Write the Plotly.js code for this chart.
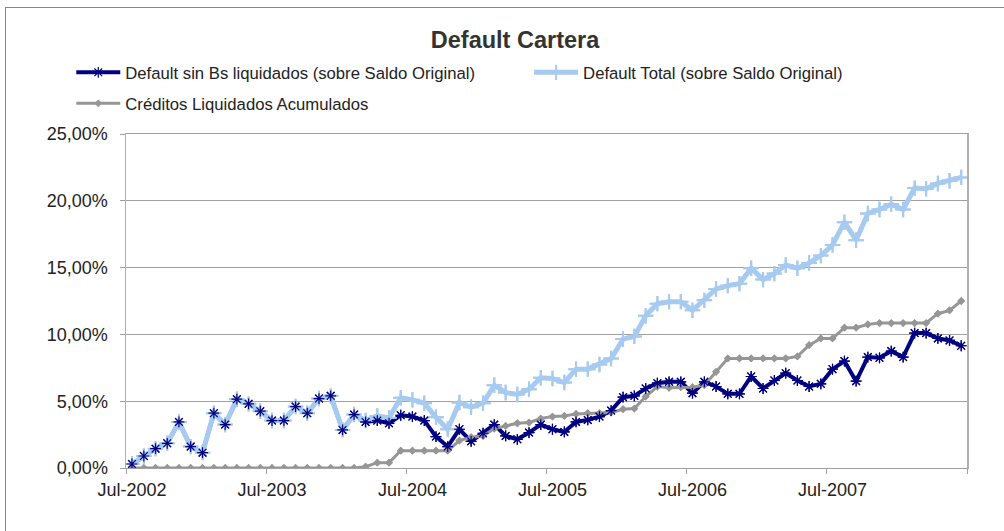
<!DOCTYPE html>
<html><head><meta charset="utf-8">
<script src="https://cdn.plot.ly/plotly-3.0.1.min.js"></script>
<style>
html,body{margin:0;padding:0;background:#fff;}
#frame{position:absolute;left:5px;top:7px;width:1100px;height:600px;border-left:1px solid #868686;border-top:1px solid #868686;}
#chart{position:absolute;left:0;top:0;width:1004px;height:531px;}
</style></head><body>
<div id="frame"></div><div id="chart"></div>
<script>
const months = [
 '2002-07','2002-08','2002-09','2002-10','2002-11','2002-12',
 '2003-01','2003-02','2003-03','2003-04','2003-05','2003-06','2003-07','2003-08','2003-09','2003-10','2003-11','2003-12',
 '2004-01','2004-02','2004-03','2004-04','2004-05','2004-06','2004-07','2004-08','2004-09','2004-10','2004-11','2004-12',
 '2005-01','2005-02','2005-03','2005-04','2005-05','2005-06','2005-07','2005-08','2005-09','2005-10','2005-11','2005-12',
 '2006-01','2006-02','2006-03','2006-04','2006-05','2006-06','2006-07','2006-08','2006-09','2006-10','2006-11','2006-12',
 '2007-01','2007-02','2007-03','2007-04','2007-05','2007-06','2007-07','2007-08','2007-09','2007-10','2007-11','2007-12',
 '2008-01','2008-02','2008-03','2008-04','2008-05','2008-06'
];
const tickDates = ['2002-07-01','2003-07-01','2004-07-01','2005-07-01','2006-07-01','2007-07-01','2008-07-01'];
const tickLabels = ['Jul-2002','Jul-2003','Jul-2004','Jul-2005','Jul-2006','Jul-2007',''];

const defaultSinBs = [
 0.3,0.9,1.45,1.85,3.45,1.6,1.15,4.1,3.25,5.15,4.8,4.25,
 3.55,3.55,4.6,4.1,5.2,5.4,2.85,4.0,3.45,3.55,3.35,3.95,
 3.85,3.55,2.35,1.6,2.9,2.0,2.6,3.25,2.4,2.15,2.65,3.25,
 2.9,2.7,3.45,3.6,3.85,4.3,5.3,5.4,5.95,6.35,6.45,6.45,
 5.6,6.45,6.1,5.55,5.55,6.85,5.95,6.55,7.1,6.55,6.1,6.3,
 7.4,8.0,6.5,8.3,8.25,8.75,8.3,10.1,10.1,9.7,9.55,9.15
];
const defaultTotal = [
 0.3,0.9,1.45,1.85,3.45,1.6,1.15,4.1,3.25,5.15,4.8,4.25,
 3.55,3.55,4.6,4.1,5.2,5.4,2.85,4.0,3.55,3.9,3.75,5.25,
 5.1,4.85,3.8,2.9,4.9,4.55,4.85,6.2,5.65,5.5,5.9,6.75,
 6.7,6.4,7.4,7.4,7.75,8.2,9.65,9.85,11.4,12.3,12.45,12.45,
 11.8,12.55,13.4,13.65,13.8,14.95,14.1,14.55,15.2,14.95,15.35,15.9,
 16.7,18.4,17.05,19.05,19.35,19.75,19.35,20.95,20.9,21.3,21.5,21.75
];
const creditosLiq = [
 0,0,0,0,0,0,0,0,0,0,0,0,
 0,0,0,0,0,0,0,0,0.1,0.4,0.4,1.3,
 1.3,1.3,1.3,1.3,2.05,2.3,2.4,2.95,3.15,3.35,3.4,3.7,
 3.85,3.9,4.05,4.1,4.1,4.15,4.4,4.45,5.35,6.1,6.0,6.05,
 6.05,6.2,7.2,8.2,8.2,8.2,8.2,8.2,8.2,8.35,9.2,9.7,
 9.7,10.5,10.5,10.75,10.85,10.85,10.85,10.85,10.85,11.55,11.8,12.5
];

const FONT = 'Liberation Sans, Arial, sans-serif';
const NAVY = '#000080', LBLUE = '#A6CAF0', GRAY = '#969696';
const per = {xperiod:'M1', xperiodalignment:'middle'};

const mNavy = {symbol:'asterisk-open', size:9, color:NAVY, line:{color:NAVY, width:1.2}};
const mBlue = {symbol:'cross-thin-open', size:11, color:LBLUE, line:{color:LBLUE, width:2}};
const mGray = {symbol:'diamond', size:6, color:GRAY, line:{width:0}};

const traces = [
 Object.assign({x:months, y:defaultSinBs, mode:'lines+markers', name:'Default sin Bs liquidados (sobre Saldo Original)',
  line:{color:NAVY, width:4}, marker:mNavy, legend:'legend'}, per),
 Object.assign({x:months, y:defaultTotal, mode:'lines+markers', name:'Default Total (sobre Saldo Original)',
  line:{color:LBLUE, width:5}, marker:mBlue, legend:'legend2'}, per),
 Object.assign({x:months, y:creditosLiq, mode:'lines+markers', name:'Créditos Liquidados Acumulados',
  line:{color:GRAY, width:3}, marker:mGray, legend:'legend3'}, per),
 Object.assign({x:months, y:defaultTotal, mode:'markers', showlegend:false, marker:mBlue}, per),
 Object.assign({x:months, y:creditosLiq, mode:'markers', showlegend:false, marker:mGray}, per),
 Object.assign({x:months, y:defaultSinBs, mode:'markers', showlegend:false, marker:mNavy}, per)
];

const legendBase = {orientation:'h', xref:'container', yref:'container', xanchor:'left', yanchor:'top',
  itemwidth:44, bgcolor:'rgba(0,0,0,0)',
  font:{family:FONT, size:16.7, color:'#222'}, itemclick:false, itemdoubleclick:false};

const layout = {
 width:1004, height:531,
 margin:{l:126, r:37, t:134, b:63},
 paper_bgcolor:'rgba(0,0,0,0)', plot_bgcolor:'#fff',
 separators:',.',
 font:{family:FONT, color:'#222'},
 title:{text:'Default Cartera', font:{family:FONT, size:23.5, color:'#333', weight:'bold'},
   x:0.513, xref:'container', xanchor:'center', y:0.925, yref:'container', yanchor:'middle'},
 showlegend:true,
 legend:Object.assign({}, legendBase, {x:0.071, y:1-55/531}),
 legend2:Object.assign({}, legendBase, {x:0.527, y:1-55/531}),
 legend3:Object.assign({}, legendBase, {x:0.071, y:1-86/531}),
 xaxis:{type:'date', range:['2002-07-01','2008-07-01'], tickmode:'array', tickvals:tickDates, ticktext:tickLabels,
   ticks:'outside', ticklen:5, tickcolor:'#A0A0A0', showline:true, linecolor:'#A0A0A0', linewidth:1, mirror:true,
   showgrid:false, zeroline:false, ticklabelshift:6, tickfont:{family:FONT, size:18, color:'#222'}},
 yaxis:{range:[0,25], tick0:0, dtick:5, tickformat:'.2f', ticksuffix:'%',
   ticks:'outside', ticklen:5, tickcolor:'#A0A0A0', showline:true, linecolor:'#B0B0B0', linewidth:1.5, mirror:true,
   ticklabelstandoff:8,
   showgrid:true, gridcolor:'#A0A0A0', gridwidth:1, zeroline:false, tickfont:{family:FONT, size:18, color:'#222'}}
};

Plotly.newPlot('chart', traces, layout, {displayModeBar:false, staticPlot:true});
</script>
</body></html>
